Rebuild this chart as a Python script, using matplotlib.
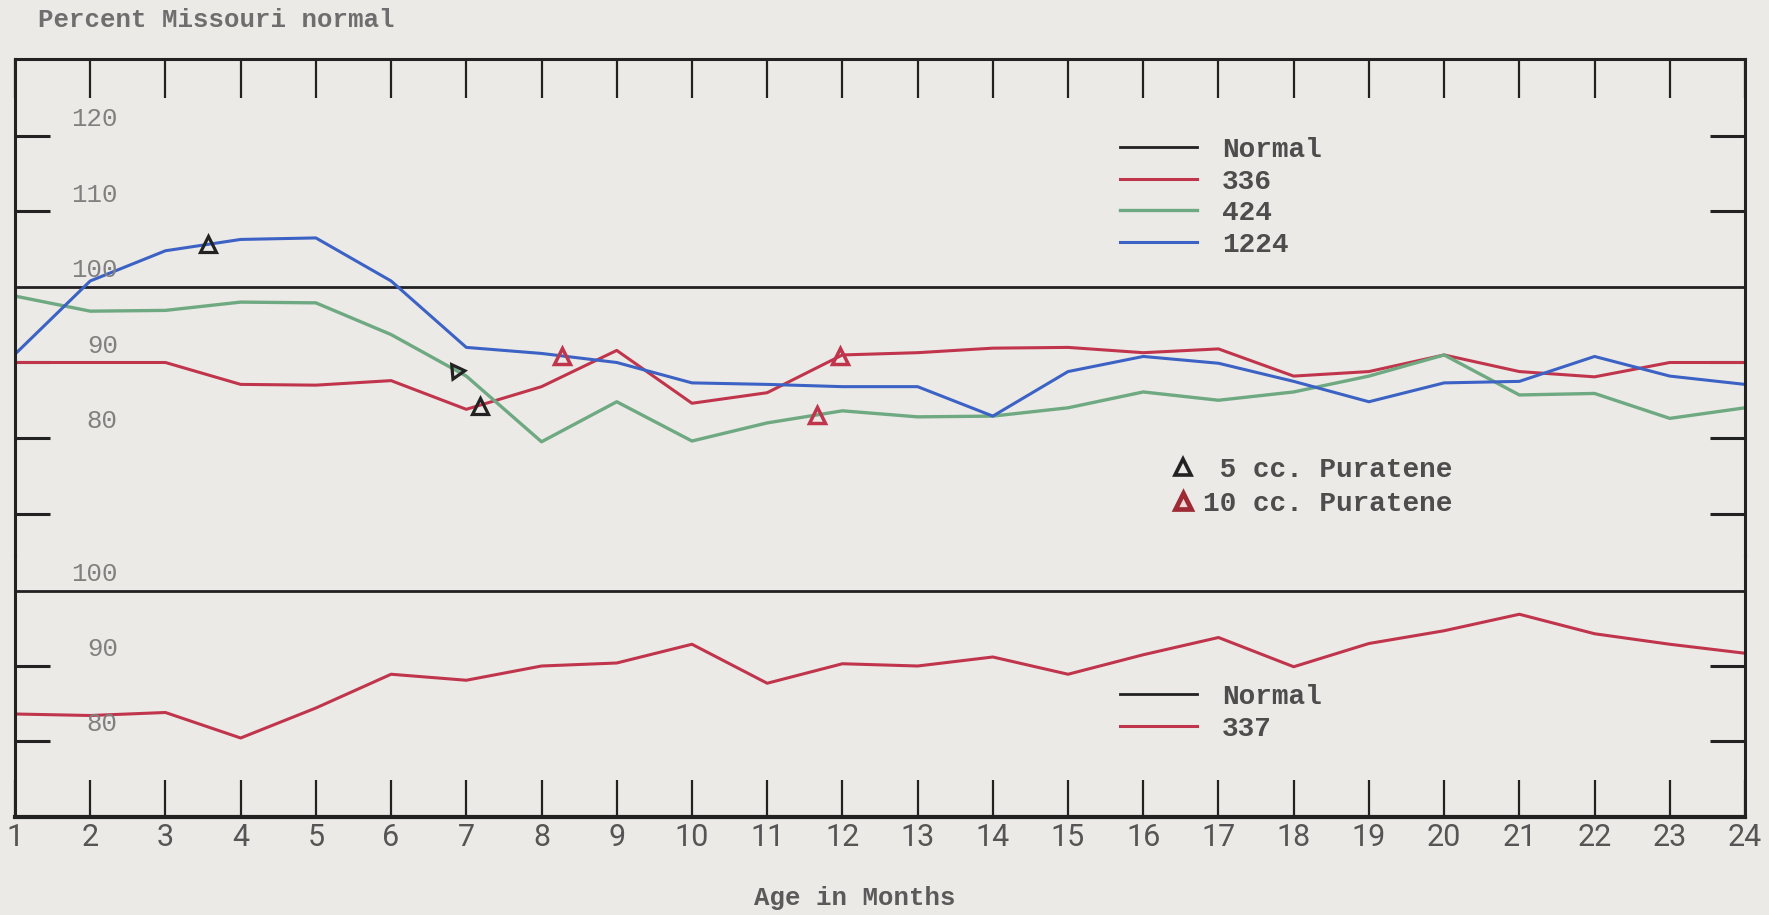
import numpy as np
import matplotlib.pyplot as plt
from matplotlib.lines import Line2D

# Percent of Missouri normal, by age in months

months = np.arange(1, 25)
month_labels = [str(m) for m in months]

r336 = [90.0, 90.0, 90.0, 87.1, 87.0, 87.6, 83.8, 86.8, 91.6, 84.6, 86.0, 91.0,
        91.3, 91.9, 92.0, 91.3, 91.8, 88.2, 88.8, 91.0, 88.8, 88.1, 90.0, 90.0]
g424 = [98.8, 96.8, 96.9, 98.0, 97.9, 93.7, 88.2, 79.5, 84.8, 79.6, 82.0, 83.6,
        82.8, 82.9, 84.0, 86.1, 85.0, 86.1, 88.2, 91.0, 85.7, 85.9, 82.6, 84.0]
b1224 = [91.1, 100.8, 104.8, 106.3, 106.5, 100.8, 92.0, 91.2, 90.0, 87.3, 87.1, 86.8,
         86.8, 82.9, 88.8, 90.8, 89.9, 87.5, 84.8, 87.3, 87.5, 90.8, 88.2, 87.1]
r337 = [83.6, 83.4, 83.8, 80.4, 84.4, 88.9, 88.1, 90.0, 90.4, 92.9, 87.7, 90.3,
        90.0, 91.2, 88.9, 91.5, 93.8, 89.9, 93.0, 94.7, 96.9, 94.3, 92.9, 91.7]

# Puratene doses marked on the upper panel
dose5_x = [3.56, 6.86, 7.18]
dose5_y = [105.7, 88.9, 84.3]
dose10_x = [8.27, 11.66, 11.97]
dose10_y = [90.8, 83.0, 90.8]

upper_labels = [120, 110, 100, 90, 80]
upper_ticks = [70, 80, 90, 110, 120]
lower_labels = [100, 90, 80]
lower_ticks = [80, 90]

PAPER = '#ebeae6'
INK = '#222222'
RED = '#c0354c'
GREEN = '#6fa982'
BLUE = '#3b62c4'
TYPE = '#4d4d4d'
MONO = 'Liberation Mono'

W, H = 1769, 915


def fx(px):
    return px / W


def fy(py):
    return 1 - py / H


fig = plt.figure(figsize=(W / 100, H / 100), dpi=100)
fig.patch.set_facecolor(PAPER)

split = 555
ax_top = fig.add_axes([fx(15), fy(split), fx(1745) - fx(15), fy(59) - fy(split)])
ax_bot = fig.add_axes([fx(15), fy(817), fx(1745) - fx(15), fy(split) - fy(817)])

ax_top.set_ylim(100 - (split - 287) / 7.55, 100 + (287 - 59) / 7.55)
ax_bot.set_ylim(100 - (817 - 591) / 7.5, 100 + (591 - split) / 7.5)

for ax in (ax_top, ax_bot):
    ax.set_facecolor('none')
    ax.set_xlim(1, 24)
    for s in ax.spines.values():
        s.set_color(INK)
        s.set_linewidth(2.2)

ax_top.spines['bottom'].set_visible(False)
ax_bot.spines['top'].set_visible(False)
ax_bot.spines['bottom'].set_linewidth(3)

# Upper panel
n1 = ax_top.axhline(100, color=INK, lw=2.0, zorder=1)
l336, = ax_top.plot(months, r336, color=RED, lw=2.2, zorder=2)
l424, = ax_top.plot(months, g424, color=GREEN, lw=2.4, zorder=2)
l1224, = ax_top.plot(months, b1224, color=BLUE, lw=2.2, zorder=2)

ax_top.plot(dose5_x[:1] + dose5_x[2:], dose5_y[:1] + dose5_y[2:], ls='none', marker='^',
            ms=12, mfc='none', mec=INK, mew=2.3, zorder=3)
ax_top.plot(dose5_x[1:2], dose5_y[1:2], ls='none', marker=(3, 0, 35),
            ms=12, mfc='none', mec=INK, mew=2.3, zorder=3)
ax_top.plot(dose10_x, dose10_y, ls='none', marker='^',
            ms=12, mfc='none', mec=RED, mew=2.5, zorder=3)

# Lower panel
n2 = ax_bot.axhline(100, color=INK, lw=2.0, zorder=1)
l337, = ax_bot.plot(months, r337, color=RED, lw=2.2, zorder=2)

# Ticks
ax_top.set_xticks(months)
ax_top.tick_params(axis='x', top=True, bottom=False, labeltop=False, labelbottom=False,
                   direction='in', length=28, width=1.6, color=INK)
ax_top.set_yticks(upper_ticks)
ax_top.tick_params(axis='y', left=True, right=True, labelleft=False,
                   direction='in', length=25, width=2.2, color=INK)

ax_bot.set_xticks(months)
ax_bot.set_xticklabels(month_labels, fontfamily='Roboto')
ax_bot.tick_params(axis='x', top=False, bottom=True, direction='in', length=27,
                   width=1.6, color=INK, pad=4, labelsize=22, labelcolor='#555555')
ax_bot.set_yticks(lower_ticks)
ax_bot.tick_params(axis='y', left=True, right=True, labelleft=False,
                   direction='in', length=25, width=2.2, color=INK)

# Typed value labels just above the ticks
for ax, labels in ((ax_top, upper_labels), (ax_bot, lower_labels)):
    for v in labels:
        ax.annotate(str(v), xy=(0, v), xycoords=ax.get_yaxis_transform(),
                    xytext=(74, 12), textcoords='offset points', ha='right', va='center',
                    fontfamily=MONO, fontsize=18.5, color='#808080')

# Legends
type_font = {'family': MONO, 'size': 20, 'weight': 'bold'}
leg_kw = dict(frameon=False, borderpad=0, borderaxespad=0, handlelength=2.77,
              handletextpad=0.9, labelspacing=0.2, prop=type_font,
              labelcolor=TYPE, bbox_transform=fig.transFigure, loc='upper left')

leg1 = ax_top.legend([n1, l336, l424, l1224], ['Normal', '336', '424', '1224'],
                     bbox_to_anchor=(fx(1120), fy(137)), **leg_kw)
ax_top.add_artist(leg1)

h5 = Line2D([], [], ls='none', marker='^', ms=11, mfc='none', mec=INK, mew=2.6)
h10 = Line2D([], [], ls='none', marker='^', ms=11, mfc='#f0d8d8', mec='#9e2a35', mew=3.4)
ax_top.legend([h5, h10], [' 5 cc. Puratene', '10 cc. Puratene'], frameon=False,
              borderpad=0, borderaxespad=0, handlelength=0.8, handletextpad=0.32,
              labelspacing=0.28, prop=type_font, labelcolor=TYPE,
              bbox_transform=fig.transFigure, loc='upper left',
              bbox_to_anchor=(fx(1172), fy(457)))

ax_bot.legend([n2, l337], ['Normal', '337'],
              bbox_to_anchor=(fx(1120), fy(684)), **leg_kw)

fig.text(fx(38), fy(20), 'Percent Missouri normal', ha='left', va='center',
         fontfamily=MONO, fontsize=18.5, fontweight='bold', color='#6e6e6e')
fig.text(fx(855), fy(898), 'Age in Months', ha='center', va='center',
         fontfamily=MONO, fontsize=18.5, fontweight='bold', color='#5a5a5a')

fig.savefig('out.png', dpi=100, facecolor=PAPER)
